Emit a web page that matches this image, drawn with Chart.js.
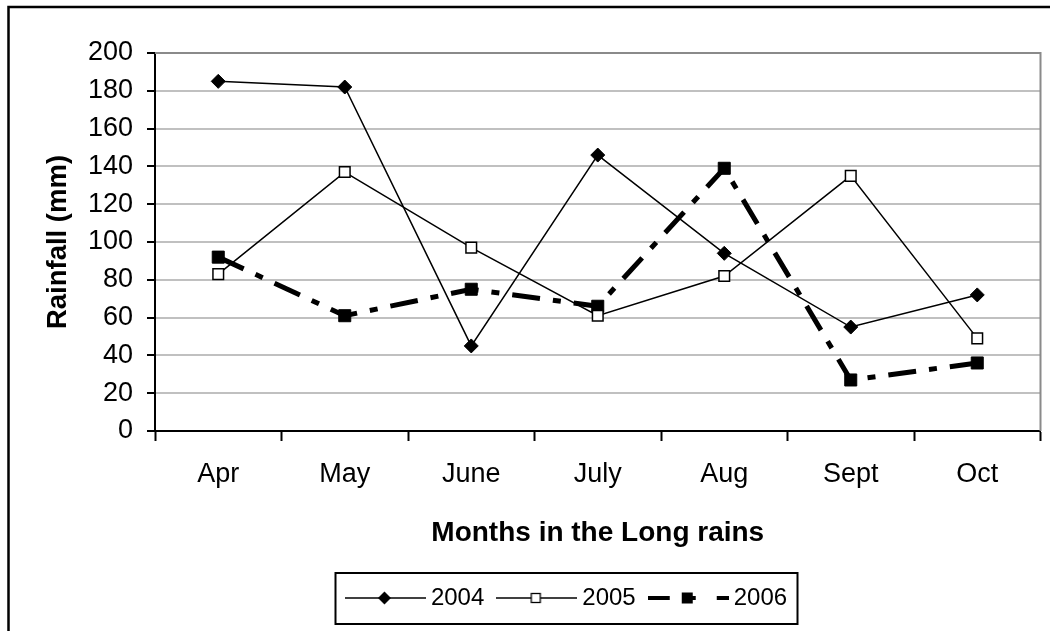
<!DOCTYPE html>
<html>
<head>
<meta charset="utf-8">
<script src="https://cdn.jsdelivr.net/npm/chart.js@4.4.0/dist/chart.umd.min.js"></script>
<style>
  html, body { margin: 0; padding: 0; background: #fff; }
  #wrap { position: relative; width: 1050px; height: 631px; }
</style>
</head>
<body>
<div id="wrap"><canvas id="rainChart" width="1050" height="631"></canvas></div>
<script>
// values (mm)
var months = ['Apr', 'May', 'June', 'July', 'Aug', 'Sept', 'Oct'];
var seriesNames = ['2004', '2005', '2006'];
var rain2004 = [185, 182, 45, 146, 94, 55, 72];
var rain2005 = [83, 137, 97, 61, 82, 135, 49];
var rain2006 = [92, 61, 75, 66, 139, 27, 36];
var yMin = 0, yMax = 200, yStep = 20;

Chart.defaults.font.family = '"Liberation Sans", Arial, sans-serif';
Chart.defaults.color = '#000';

// small canvases used as legend symbols (line + marker)
function legendSymbol(kind) {
    var c = document.createElement('canvas');
    c.width = 81;
    c.height = 20;
    var g = c.getContext('2d');
    g.strokeStyle = '#000';
    g.fillStyle = '#000';
    if (kind === 'dash') {
        g.lineWidth = 4;
        [[0, 22], [34, 48], [69, 81]].forEach(function(s) {
            g.beginPath(); g.moveTo(s[0], 10); g.lineTo(s[1], 10); g.stroke();
        });
        g.fillRect(34, 4.5, 11, 11);
    } else {
        g.lineWidth = 1.5;
        g.beginPath(); g.moveTo(0, 10); g.lineTo(81, 10); g.stroke();
        if (kind === 'diamond') {
            g.beginPath();
            g.moveTo(33, 10); g.lineTo(39.5, 3.5); g.lineTo(46, 10); g.lineTo(39.5, 16.5);
            g.closePath(); g.fill();
        } else {
            g.fillStyle = '#fff';
            g.fillRect(35, 5.5, 9, 9);
            g.lineWidth = 1.3;
            g.strokeRect(35, 5.5, 9, 9);
        }
    }
    return c;
}
var symbols = [legendSymbol('diamond'), legendSymbol('square'), legendSymbol('dash')];

var framePlugin = {
    id: 'frame',
    afterLayout: function(chart) {
        // legend in the picture sits a bit left of the plot centre
        var lg = chart.legend;
        var shift = 569.5 - (lg.left + lg.right) / 2;
        lg.left += shift;
        lg.right += shift;
    },
    beforeDraw: function(chart) {
        var ctx = chart.ctx;
        ctx.save();
        ctx.fillStyle = '#fff';
        ctx.fillRect(0, 0, chart.width, chart.height);
        ctx.strokeStyle = '#000';
        ctx.lineWidth = 2.5;
        ctx.strokeRect(8.5, 7, chart.width + 50, chart.height + 50);
        ctx.restore();
    },
    afterDraw: function(chart) {
        var ctx = chart.ctx;
        var a = chart.chartArea;
        ctx.save();
        // plot area border, top and right
        ctx.strokeStyle = '#8a8a8a';
        ctx.lineWidth = 2;
        ctx.beginPath();
        ctx.moveTo(a.left, a.top);
        ctx.lineTo(a.right, a.top);
        ctx.lineTo(a.right, a.bottom);
        ctx.stroke();
        // box round the legend
        var hb = chart.legend.legendHitBoxes;
        if (hb && hb.length) {
            var first = hb[0], last = hb[hb.length - 1];
            var x0 = first.left - 17;
            var x1 = last.left + last.width + 10;
            var y0 = first.top - 13;
            var y1 = first.top + first.height + 14;
            ctx.strokeStyle = '#000';
            ctx.lineWidth = 2;
            ctx.strokeRect(Math.round(x0) + 0.5, Math.round(y0), Math.round(x1 - x0), Math.round(y1 - y0));
        }
        ctx.restore();
    }
};

var ctx = document.getElementById('rainChart').getContext('2d');
var rainChart = new Chart(ctx, {
    type: 'line',
    data: {
        labels: months,
        datasets: [{
            label: seriesNames[0],
            data: rain2004,
            borderColor: '#000',
            borderWidth: 1.5,
            pointStyle: 'rectRot',
            pointRadius: 7,
            pointBackgroundColor: '#000',
            pointBorderColor: '#000',
            pointBorderWidth: 1
        }, {
            label: seriesNames[1],
            data: rain2005,
            borderColor: '#000',
            borderWidth: 1.5,
            pointStyle: 'rect',
            pointRadius: 7.5,
            pointBackgroundColor: '#fff',
            pointBorderColor: '#000',
            pointBorderWidth: 1.5
        }, {
            label: seriesNames[2],
            data: rain2006,
            borderColor: '#000',
            borderWidth: 5,
            borderDash: [28, 13, 8, 13],
            pointStyle: 'rect',
            pointRadius: 8.5,
            pointBackgroundColor: '#000',
            pointBorderColor: '#000',
            pointBorderWidth: 1
        }]
    },
    options: {
        responsive: false,
        animation: false,
        devicePixelRatio: 1,
        layout: {
            padding: { left: 10, right: 8, top: 53, bottom: 11 }
        },
        plugins: {
            tooltip: { enabled: false },
            legend: {
                position: 'bottom',
                labels: {
                    usePointStyle: true,
                    pointStyleWidth: 67,
                    padding: 19,
                    font: { size: 24 },
                    generateLabels: function(chart) {
                        return chart.data.datasets.map(function(ds, i) {
                            return {
                                text: ds.label,
                                pointStyle: symbols[i],
                                fontColor: '#000',
                                fillStyle: 'transparent',
                                strokeStyle: 'transparent',
                                lineWidth: 0,
                                hidden: false,
                                datasetIndex: i
                            };
                        });
                    }
                }
            }
        },
        scales: {
            x: {
                offset: true,
                afterFit: function(scale) { scale.height = 136; },
                grid: {
                    offset: true,
                    drawOnChartArea: false,
                    drawTicks: true,
                    tickLength: 10,
                    tickWidth: 2,
                    tickColor: '#000'
                },
                border: { color: '#000', width: 2 },
                ticks: {
                    font: { size: 27 },
                    padding: 17,
                    maxRotation: 0
                },
                title: {
                    display: true,
                    text: 'Months in the Long rains',
                    font: { size: 28, weight: 'bold' },
                    padding: { top: 0, bottom: 17 }
                }
            },
            y: {
                min: yMin,
                max: yMax,
                afterFit: function(scale) { scale.width = 145; },
                grid: {
                    color: '#c0c0c0',
                    lineWidth: 2,
                    drawTicks: true,
                    tickLength: 8,
                    tickWidth: 2,
                    tickColor: '#000'
                },
                border: { color: '#000', width: 2 },
                ticks: {
                    stepSize: yStep,
                    font: { size: 27 },
                    padding: 14
                },
                title: {
                    display: true,
                    text: 'Rainfall (mm)',
                    font: { size: 27.5, weight: 'bold' },
                    padding: { top: 32, bottom: 0 }
                }
            }
        }
    },
    plugins: [framePlugin]
});
</script>
</body>
</html>
